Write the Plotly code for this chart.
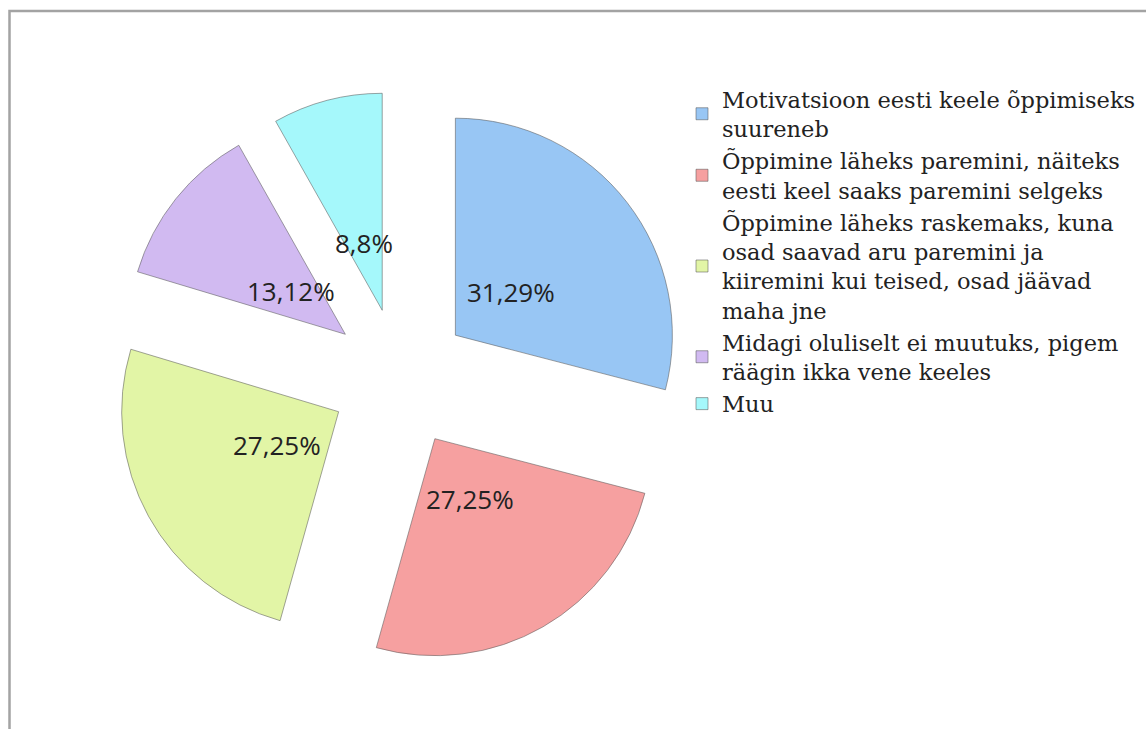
import math
import plotly.graph_objects as go

categories = [
    "Motivatsioon eesti keele õppimiseks<br>suureneb",
    "Õppimine läheks paremini, näiteks<br>eesti keel saaks paremini selgeks",
    "Õppimine läheks raskemaks, kuna<br>osad saavad aru paremini ja<br>kiiremini kui teised, osad jäävad<br>maha jne",
    "Midagi oluliselt ei muutuks, pigem<br>räägin ikka vene keeles",
    "Muu",
]
values = [31.29, 27.25, 27.25, 13.12, 8.8]
value_labels = [f"{v:g}".replace(".", ",") + "%" for v in values]
colors = ["#98c6f4", "#f6a0a0", "#e2f5a6", "#d1baf1", "#a5f8fb"]

W, H = 1146, 729
CX, CY = 400, 378        # pie centre in pixels
R = 217                  # pie radius in pixels
PULL = 0.3226
half = R * (1 + PULL)

fig = go.Figure(go.Pie(
    labels=categories,
    values=values,
    sort=False,
    direction="clockwise",
    rotation=0,
    pull=[PULL] * len(values),
    marker=dict(colors=colors, line=dict(color="rgba(90,90,90,0.55)", width=1)),
    textinfo="none",
    hoverinfo="label+value",
    domain=dict(x=[(CX - half) / W, (CX + half) / W],
                y=[(H - (CY + half)) / H, (H - (CY - half)) / H]),
))

# value labels placed along each slice's bisector
total = sum(values)
cum = 0
annotations = []
for v, lab in zip(values, value_labels):
    mid = (cum + v / 2) / total * 2 * math.pi
    cum += v
    dist = R * PULL + 70
    px = CX + dist * math.sin(mid)
    py = CY - dist * math.cos(mid)
    annotations.append(dict(
        x=px / W, y=(H - py) / H, xref="paper", yref="paper",
        text=lab, showarrow=False,
        font=dict(family="Open Sans, Liberation Sans, sans-serif", size=26, color="#222222"),
        xanchor="center", yanchor="middle",
    ))

fig.update_layout(
    width=W, height=H,
    margin=dict(l=0, r=0, t=0, b=0),
    paper_bgcolor="white",
    plot_bgcolor="white",
    showlegend=True,
    legend=dict(
        x=682 / W, xanchor="left",
        y=(H - 78) / H, yanchor="top",
        font=dict(family="DejaVu Serif, serif", size=22.5, color="#222222"),
        bgcolor="rgba(0,0,0,0)",
        traceorder="normal",
    ),
    annotations=annotations,
    shapes=[dict(
        type="rect", xref="paper", yref="paper",
        x0=9.5 / W, x1=1.02, y0=-0.02, y1=(H - 11) / H,
        line=dict(color="#a3a3a3", width=2.5),
        fillcolor="rgba(0,0,0,0)",
    )],
)

fig.write_html("out.html")
